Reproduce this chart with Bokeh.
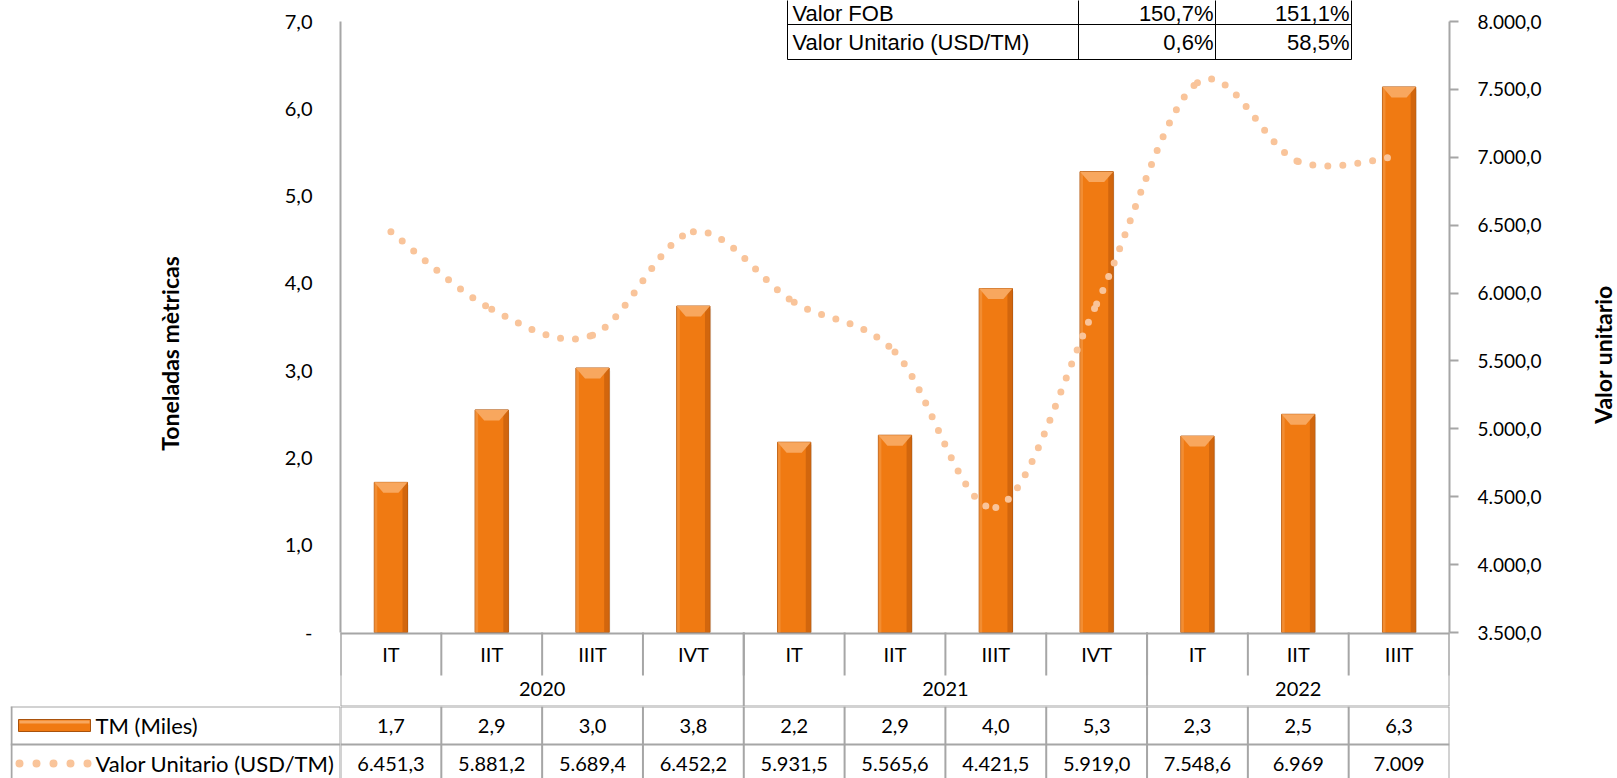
import math
import numpy as np
from bokeh.plotting import figure
from bokeh.models import Range1d, LinearAxis, FixedTicker
from bokeh.layouts import column, row
from bokeh.embed import file_html
from bokeh.resources import INLINE
from bokeh.core.properties import value

# ---------------- data ----------------
quarters = ["IT", "IIT", "IIIT", "IVT", "IT", "IIT", "IIIT", "IVT", "IT", "IIT", "IIIT"]
years = ["2020", "2021", "2022"]
quarters_per_year = [4, 4, 3]
tm_miles = [1.72, 2.55, 3.03, 3.74, 2.18, 2.26, 3.94, 5.28, 2.25, 2.50, 6.25]
tm_labels = ["1,7", "2,9", "3,0", "3,8", "2,2", "2,9", "4,0", "5,3", "2,3", "2,5", "6,3"]
valor_unitario = [6451.3, 5881.2, 5689.4, 6452.2, 5931.5, 5565.6, 4421.5, 5919.0, 7548.6, 6969.0, 7009.0]
valor_labels = ["6.451,3", "5.881,2", "5.689,4", "6.452,2", "5.931,5", "5.565,6",
                "4.421,5", "5.919,0", "7.548,6", "6.969", "7.009"]
left_ticks = [0, 1, 2, 3, 4, 5, 6, 7]
left_tick_labels = ["-", "1,0", "2,0", "3,0", "4,0", "5,0", "6,0", "7,0"]
right_ticks = [3500, 4000, 4500, 5000, 5500, 6000, 6500, 7000, 7500, 8000]
right_tick_labels = ["3.500,0", "4.000,0", "4.500,0", "5.000,0", "5.500,0", "6.000,0",
                     "6.500,0", "7.000,0", "7.500,0", "8.000,0"]
var_rows = ["Valor FOB", "Valor Unitario (USD/TM)"]
var_col1 = ["150,7%", "0,6%"]
var_col2 = ["151,1%", "58,5%"]
row_names = ["TM (Miles)", "Valor Unitario (USD/TM)"]
left_title = "Toneladas mètricas"
right_title = "Valor unitario"

# ---------------- layout (canvas pixels) ----------------
W, H = 1617, 778
RT_W = 40                      # strip holding the right-hand title
FRAME_L, FRAME_R = 340, 1449
AX_B, AX_T = 632, 21          # pixel rows of 0 / 7,0 (3.500 / 8.000)
Q_B, Y_B = 675, 706           # bottom of quarter row / of year row
R1_B, R2_B = 744, 782         # bottom of table rows
T_LEFT = 10
n = len(quarters)
ppc = (FRAME_R - FRAME_L) / n
lscale = (AX_B - AX_T) / 7.0
rscale = (AX_B - AX_T) / 4500.0


def xd(px):
    return (px - FRAME_L) / ppc


def yl(px):
    return (AX_B - px) / lscale


def yr(px):
    return 3500 + (AX_B - px) / rscale


FONT = value("Lato")
GRID = "#A6A6A6"
ORANGE = "#F07A12"
DOT = "#F9C49A"

xc = np.arange(n) + 0.5
tm = np.array(tm_miles)
vu = np.array(valor_unitario)

# ---------------- main chart (incl. category rows) ----------------
p = figure(width=W - RT_W, height=Y_B, x_range=Range1d(0, n), y_range=Range1d(yl(Y_B), yl(0)),
           x_axis_location=None, y_axis_location=None, output_backend="svg",
           toolbar_location=None, min_border_left=FRAME_L, min_border_right=W - RT_W - FRAME_R,
           min_border_top=0, min_border_bottom=0)
p.extra_y_ranges = {"right": Range1d(yr(Y_B), yr(0))}
p.grid.visible = False
p.outline_line_color = None

la = LinearAxis(bounds=(0, 7), ticker=FixedTicker(ticks=left_ticks),
                major_label_overrides={t: s for t, s in zip(left_ticks, left_tick_labels)},
                major_tick_out=0, major_tick_in=0, minor_tick_out=0, minor_tick_in=0,
                axis_line_color=GRID, axis_line_width=2, major_label_standoff=28,
                major_label_text_font="Lato", major_label_text_font_size="20px",
                major_label_text_color="#000000",
                axis_label=left_title, axis_label_standoff=98,
                axis_label_text_font="Lato", axis_label_text_font_style="bold",
                axis_label_text_font_size="23px", axis_label_text_color="#000000")
p.add_layout(la, "left")
ra = LinearAxis(y_range_name="right", bounds=(3500, 8000), ticker=FixedTicker(ticks=right_ticks),
                major_label_overrides={t: s for t, s in zip(right_ticks, right_tick_labels)},
                major_tick_out=9, major_tick_in=0, minor_tick_out=0, minor_tick_in=0,
                major_tick_line_color=GRID, major_tick_line_width=2,
                axis_line_color=GRID, axis_line_width=2, major_label_standoff=19,
                major_label_text_font="Lato", major_label_text_font_size="19px",
                major_label_text_color="#000000")
p.add_layout(ra, "right")

# bars with a bevel look
bw = 0.33
p.vbar(x=xc + 0.012, width=bw, top=tm - 0.03, bottom=0, fill_color="#D9D9D9", fill_alpha=0.5,
       line_color=None)
p.vbar(x=xc, width=bw, top=tm, bottom=0, fill_color=ORANGE, line_color="#B4560B", line_width=1)
p.vbar(x=xc + bw / 2 - 0.025, width=0.05, top=tm, bottom=0, fill_color="#C8600C",
       fill_alpha=0.75, line_color=None)
p.vbar(x=xc - bw / 2 + 0.015, width=0.03, top=tm, bottom=0, fill_color="#F49A48",
       fill_alpha=0.6, line_color=None)
cap_h = 0.12
inset = 0.09
p.patches(xs=[[x - bw / 2, x + bw / 2, x + bw / 2 - inset, x - bw / 2 + inset] for x in xc],
          ys=[[t, t, t - cap_h, t - cap_h] for t in tm],
          fill_color="#F8A75E", line_color=None)

# smoothed dotted line (Catmull-Rom bezier through the data points)
P = np.column_stack([xc, vu])
bx0, by0, bx1, by1, c0x, c0y, c1x, c1y = ([] for _ in range(8))
for i in range(n - 1):
    pm = P[i - 1] if i > 0 else P[i]
    a, b = P[i], P[i + 1]
    q = P[i + 2] if i + 2 < n else P[i + 1]
    c0 = a + (b - pm) / 6.0
    c1 = b - (q - a) / 6.0
    bx0.append(a[0]); by0.append(a[1]); bx1.append(b[0]); by1.append(b[1])
    c0x.append(c0[0]); c0y.append(c0[1]); c1x.append(c1[0]); c1y.append(c1[1])
p.bezier(x0=bx0, y0=by0, x1=bx1, y1=by1, cx0=c0x, cy0=c0y, cx1=c1x, cy1=c1y,
         y_range_name="right", line_color=DOT, line_width=7, line_dash="0 15", line_cap="round")

# variation table at top
TL, TC1, TC2, TR = 787, 1078, 1215, 1351
R0, R1, R2 = -10, 24, 59
TFONT = value("Liberation Sans")
p.quad(left=xd(TL), right=xd(TR), top=yl(R0), bottom=yl(R2), fill_color="white",
       line_color=None)
p.segment(x0=[xd(TL)] * 2, x1=[xd(TR)] * 2, y0=[yl(R1), yl(R2)], y1=[yl(R1), yl(R2)],
          line_color="black", line_width=1)
p.segment(x0=[xd(v) for v in (TL, TC1, TC2, TR)], x1=[xd(v) for v in (TL, TC1, TC2, TR)],
          y0=[yl(R0)] * 4, y1=[yl(R2)] * 4, line_color="black", line_width=1)
row_y = [yl(13), yl(42)]
p.text(x=[xd(TL + 5)] * 2, y=row_y, text=var_rows, text_align="left", text_baseline="middle",
       text_font=TFONT, text_font_size="22px", text_color="black")
p.text(x=[xd(TC2 - 2)] * 2, y=row_y, text=var_col1, text_align="right", text_baseline="middle",
       text_font=TFONT, text_font_size="22px", text_color="black")
p.text(x=[xd(TR - 2)] * 2, y=row_y, text=var_col2, text_align="right", text_baseline="middle",
       text_font=TFONT, text_font_size="22px", text_color="black")

# category rows (quarters / years) below the plot area
bounds = list(range(n + 1))
year_bounds = [0] + [int(v) for v in np.cumsum(quarters_per_year)]
p.segment(x0=[0], x1=[n], y0=[yl(AX_B + 1)], y1=[yl(AX_B + 1)], line_color=GRID, line_width=2)
p.segment(x0=[0], x1=[n], y0=[yl(Y_B)], y1=[yl(Y_B)], line_color=GRID, line_width=2)
p.segment(x0=bounds, x1=bounds, y0=[yl(AX_B)] * len(bounds), y1=[yl(Q_B)] * len(bounds),
          line_color=GRID, line_width=2)
p.segment(x0=year_bounds, x1=year_bounds, y0=[yl(AX_B)] * len(year_bounds),
          y1=[yl(Y_B)] * len(year_bounds), line_color=GRID, line_width=2)
p.text(x=xc, y=[yl(653)] * n, text=quarters, text_align="center", text_baseline="middle",
       text_font=FONT, text_font_size="20px", text_color="black")
ycent = [(year_bounds[i] + year_bounds[i + 1]) / 2 for i in range(len(years))]
p.text(x=ycent, y=[yl(688)] * len(years), text=years, text_align="center",
       text_baseline="middle", text_font=FONT, text_font_size="20px", text_color="black")

# ---------------- right title strip ----------------
rt = figure(width=RT_W, height=Y_B, x_range=Range1d(W - RT_W, W), y_range=Range1d(0, Y_B),
            x_axis_location=None, y_axis_location=None, output_backend="svg",
            toolbar_location=None, min_border_left=0, min_border_right=0,
            min_border_top=0, min_border_bottom=0)
rt.grid.visible = False
rt.outline_line_color = None
rt.text(x=[1602], y=[Y_B - 354], text=[right_title], angle=math.pi / 2, text_align="center",
        text_baseline="middle", text_font=FONT, text_font_style="bold",
        text_font_size="23px", text_color="black")

# ---------------- data table: row headers ----------------
h = figure(width=FRAME_L, height=H - Y_B, x_range=Range1d(T_LEFT, FRAME_L),
           y_range=Range1d(H, Y_B), x_axis_location=None, y_axis_location=None,
           output_backend="svg", toolbar_location=None, min_border_left=T_LEFT,
           min_border_right=0, min_border_top=0, min_border_bottom=0)
h.grid.visible = False
h.outline_line_color = None
h.segment(x0=[T_LEFT] * 3, x1=[FRAME_L] * 3, y0=[Y_B, R1_B, R2_B], y1=[Y_B, R1_B, R2_B],
          line_color=GRID, line_width=2)
h.segment(x0=[T_LEFT + 1, FRAME_L], x1=[T_LEFT + 1, FRAME_L], y0=[Y_B] * 2, y1=[R2_B] * 2,
          line_color=GRID, line_width=2)
h.text(x=[95] * 2, y=[725, 763], text=row_names, text_align="left", text_baseline="middle",
       text_font=FONT, text_font_size="22px", text_color="black")
h.quad(left=18, right=90, top=719, bottom=731, fill_color=ORANGE, line_color="#A9520C")
h.quad(left=19, right=89, top=720, bottom=723, fill_color="#F8A75E", line_color=None)
h.segment(x0=[19], x1=[89], y0=[763], y1=[763], line_color=DOT, line_width=8,
          line_dash="0 17", line_cap="round")

# ---------------- data table: values ----------------
t = figure(width=W - FRAME_L, height=H - Y_B, x_range=Range1d(0, n), y_range=Range1d(H, Y_B),
           x_axis_location=None, y_axis_location=None, output_backend="svg",
           toolbar_location=None, min_border_left=0, min_border_right=W - FRAME_R,
           min_border_top=0, min_border_bottom=0)
t.grid.visible = False
t.outline_line_color = None
t.segment(x0=[0] * 3, x1=[n] * 3, y0=[Y_B, R1_B, R2_B], y1=[Y_B, R1_B, R2_B],
          line_color=GRID, line_width=2)
t.segment(x0=bounds, x1=bounds, y0=[Y_B] * len(bounds), y1=[R2_B] * len(bounds),
          line_color=GRID, line_width=2)
t.text(x=xc, y=[725] * n, text=tm_labels, text_align="center", text_baseline="middle",
       text_font=FONT, text_font_size="20px", text_color="black")
t.text(x=xc, y=[763] * n, text=valor_labels, text_align="center", text_baseline="middle",
       text_font=FONT, text_font_size="20px", text_color="black")

layout = column(row(p, rt, spacing=0), row(h, t, spacing=0), spacing=0)
open("out.html", "w").write(file_html(layout, INLINE))
